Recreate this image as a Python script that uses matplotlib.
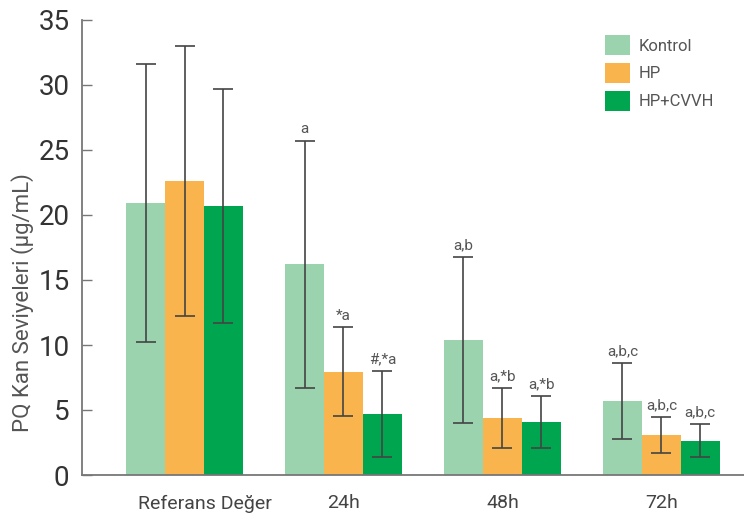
import numpy as np
import matplotlib
matplotlib.use('Agg')
import matplotlib.pyplot as plt
from matplotlib.patches import Patch
from matplotlib.transforms import ScaledTranslation

plt.rcParams['font.family'] = ['Roboto', 'DejaVu Sans']

# Data
groups = ['Referans Değer', '24h', '48h', '72h']
series = ['Kontrol', 'HP', 'HP+CVVH']
colors = ['#9BD3AE', '#F9B44E', '#00A54F']

kontrol_mean = [20.9, 16.2, 10.4, 5.7]
kontrol_sd = [10.7, 9.5, 6.4, 2.9]
hp_mean = [22.6, 7.95, 4.4, 3.1]
hp_sd = [10.4, 3.4, 2.3, 1.4]
cvvh_mean = [20.7, 4.7, 4.1, 2.65]
cvvh_sd = [9.0, 3.3, 2.0, 1.3]

kontrol_marks = ['', 'a', 'a,b', 'a,b,c']
hp_marks = ['', '*a', 'a,*b', 'a,b,c']
cvvh_marks = ['', '#,*a', 'a,*b', 'a,b,c']

means = [kontrol_mean, hp_mean, cvvh_mean]
sds = [kontrol_sd, hp_sd, cvvh_sd]
marks = [kontrol_marks, hp_marks, cvvh_marks]

fig = plt.figure(figsize=(7.44, 5.18), dpi=100)
ax = fig.add_axes([82 / 744, 43 / 518, 662 / 744, 455 / 518])

x = np.arange(len(groups))
width = 0.245
axis_grey = '#777777'
text_grey = '#444444'

for i, name in enumerate(series):
    pos = x + (i - 1) * width
    ax.bar(pos, means[i], width, color=colors[i], label=name, zorder=2)
    ax.errorbar(pos, means[i], yerr=sds[i], fmt='none', ecolor='#444444',
                elinewidth=1.2, capsize=7.5, capthick=1.2, zorder=3)
    for p, m, s, t in zip(pos, means[i], sds[i], marks[i]):
        if t:
            ax.text(p, m + s + 0.35, t, ha='center', va='bottom',
                    fontsize=11, color='#555555')

ax.set_ylim(0, 35)
ax.set_xlim(-0.645, 3.52)
ax.set_yticks(range(0, 36, 5))
ax.set_xticks(x)
ax.set_xticklabels(groups, fontsize=14, color=text_grey)
ax.tick_params(axis='x', length=0, pad=14)
ax.tick_params(axis='y', direction='in', length=7, width=1, color=axis_grey,
               labelsize=20, labelcolor='#333333', pad=9)

# the first category label sits a bit right of its group in the original
first = ax.get_xticklabels()[0]
first.set_transform(first.get_transform() + ScaledTranslation(20 / 100, 0, fig.dpi_scale_trans))

for side in ['top', 'right']:
    ax.spines[side].set_visible(False)
for side in ['left', 'bottom']:
    ax.spines[side].set_color(axis_grey)
    ax.spines[side].set_linewidth(1.3)

ax.set_ylabel('PQ Kan Seviyeleri (μg/mL)', fontsize=16, color='#555555')
ax.yaxis.set_label_coords(-0.073, 0.38)

handles = [Patch(facecolor=c, label=n) for c, n in zip(colors, series)]
ax.legend(handles=handles, loc='upper left', bbox_to_anchor=(0.768, 1.0),
          frameon=False, fontsize=12, handlelength=1.5, handleheight=1.5,
          handletextpad=0.5, labelspacing=0.45, labelcolor='#555555')

fig.savefig('out.png', dpi=100)
